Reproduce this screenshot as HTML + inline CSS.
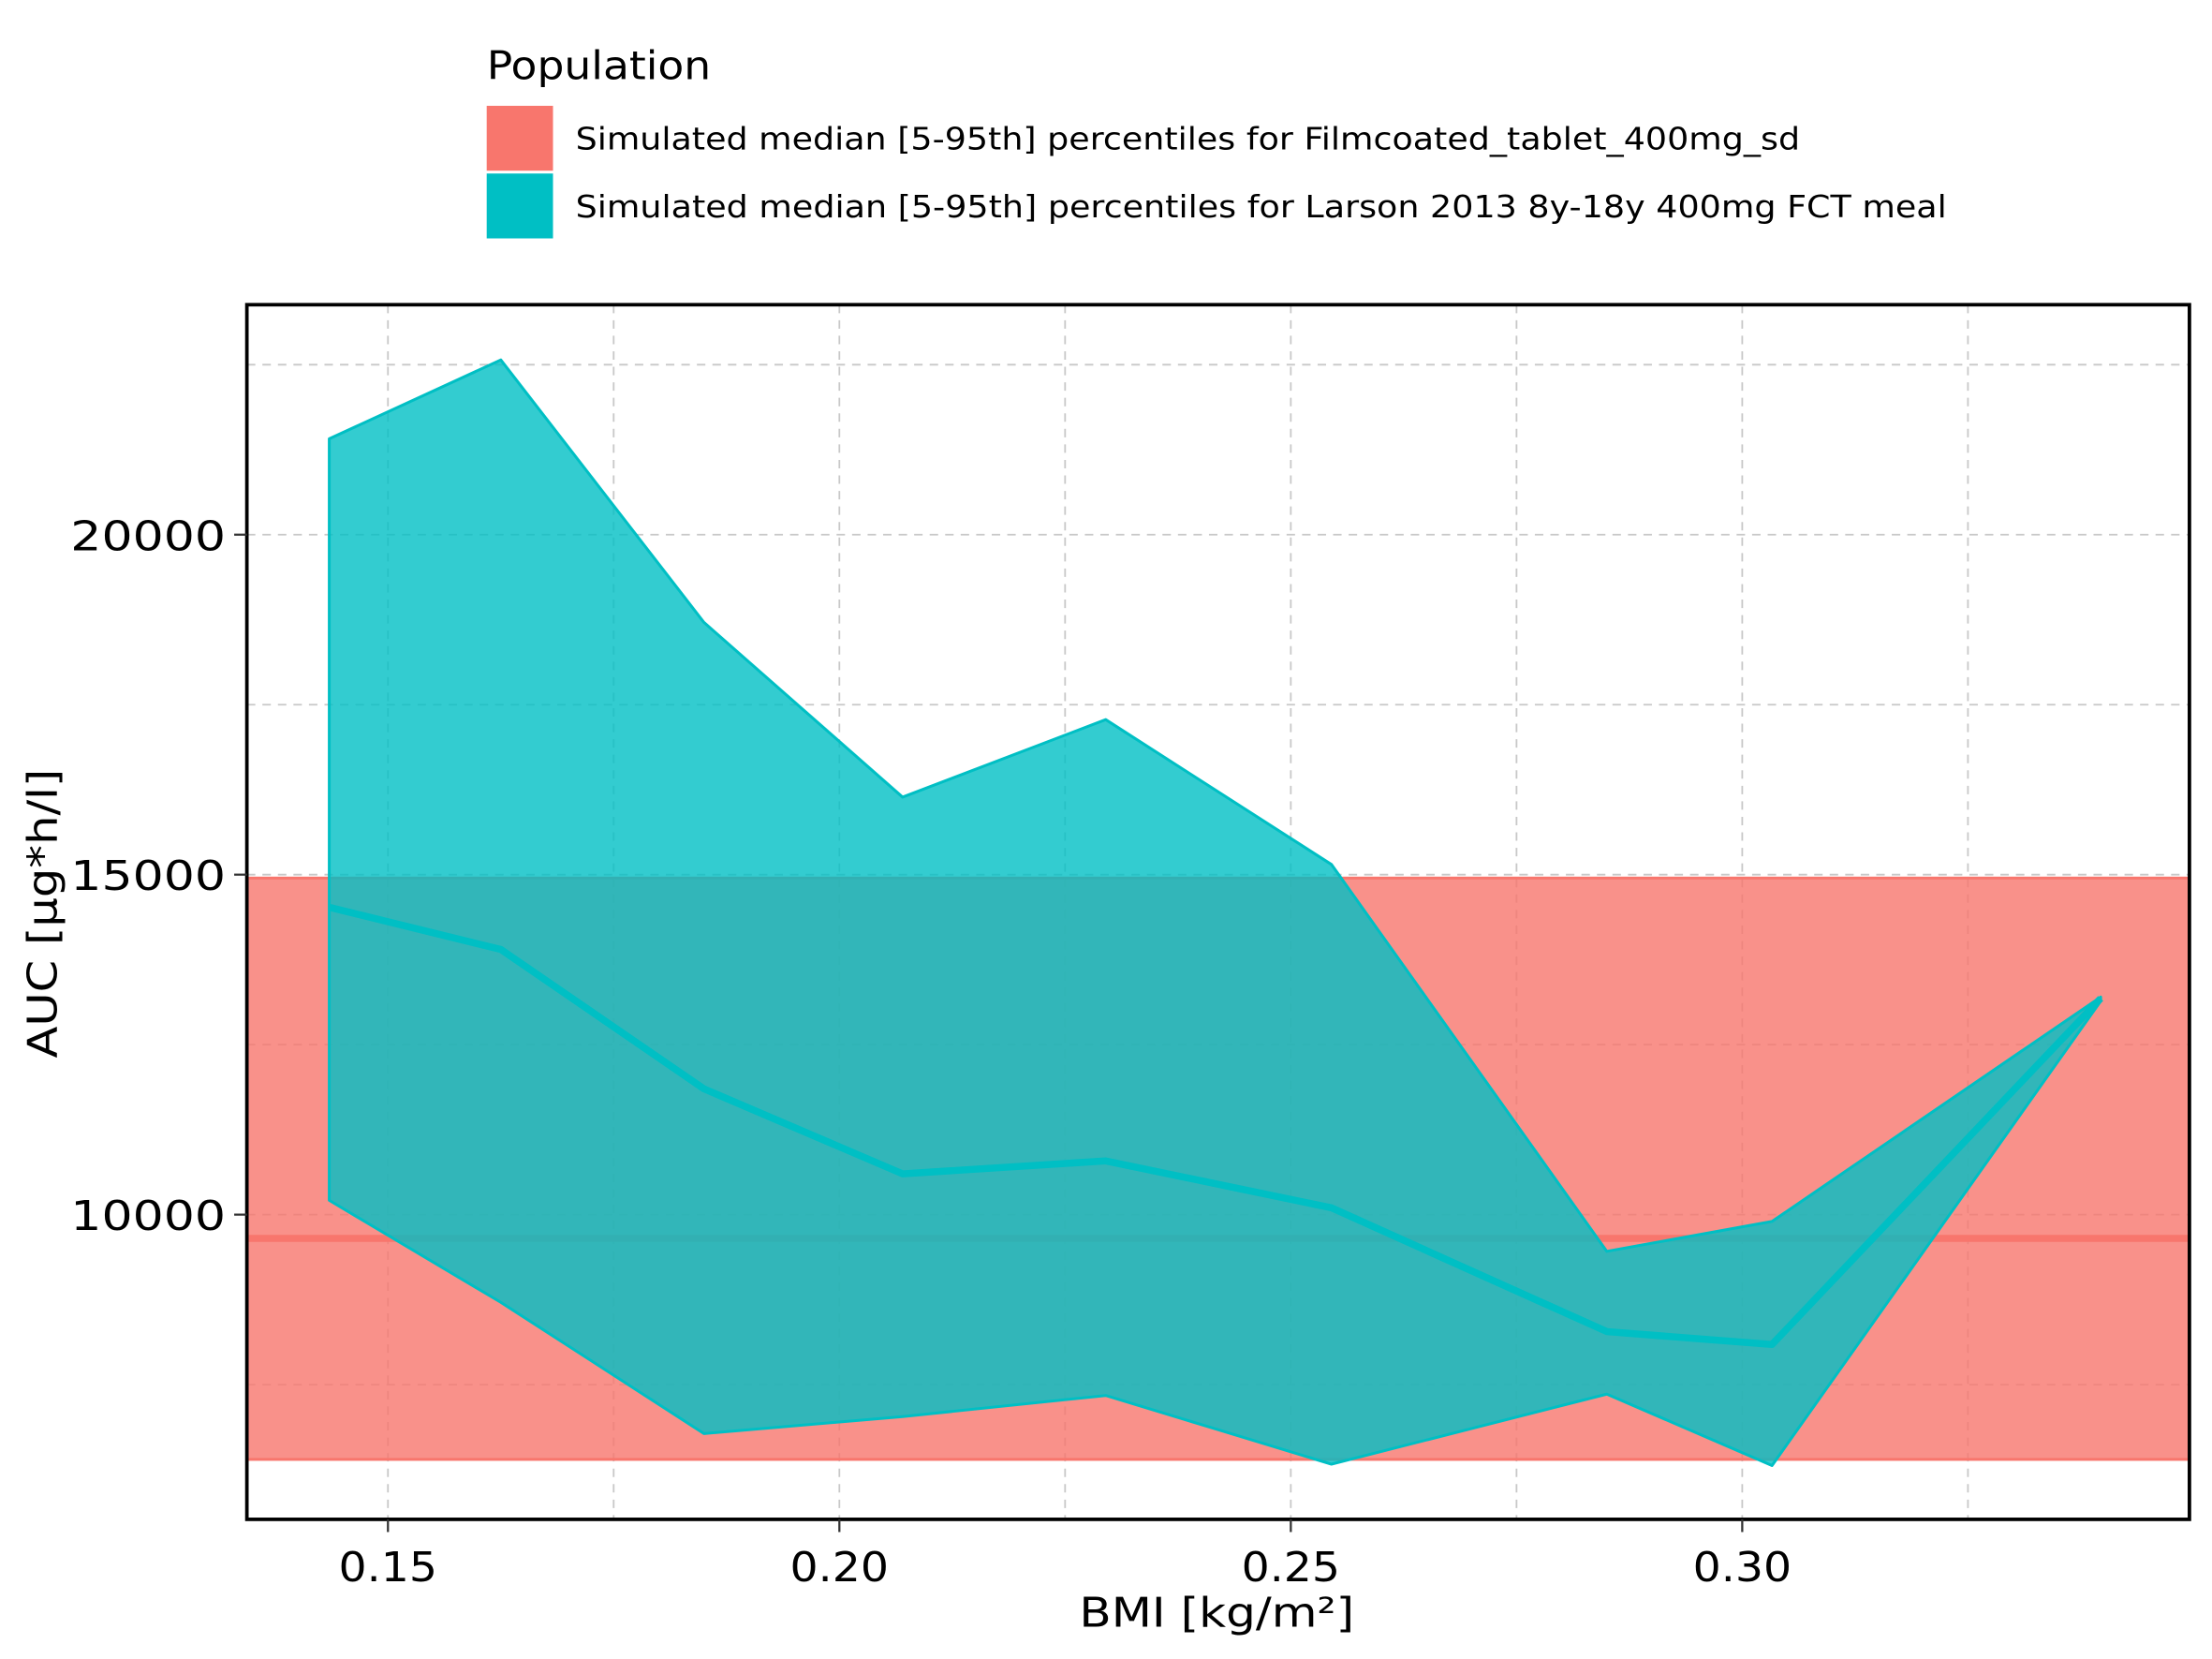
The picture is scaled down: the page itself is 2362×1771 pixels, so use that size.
<!DOCTYPE html>
<html><head><meta charset="utf-8"><style>
html,body{margin:0;padding:0;background:#fff;}
svg{display:block;font-family:"DejaVu Sans","Liberation Sans",sans-serif;}
</style></head><body>
<svg id="chart" width="2362" height="1771" viewBox="0 0 1568 1176" preserveAspectRatio="none" xmlns="http://www.w3.org/2000/svg">
<g>
<text x="345" y="56" font-size="28" textLength="159" lengthAdjust="spacingAndGlyphs" fill="#000">Population</text>
<rect x="345" y="75" width="47" height="46" fill="#F8766D"/>
<rect x="345" y="123" width="47" height="46" fill="#00BFC4"/>
<text x="408" y="106" font-size="22" textLength="868" lengthAdjust="spacingAndGlyphs" fill="#000">Simulated median [5-95th] percentiles for Filmcoated_tablet_400mg_sd</text>
<text x="408" y="154" font-size="22" textLength="972" lengthAdjust="spacingAndGlyphs" fill="#000">Simulated median [5-95th] percentiles for Larson 2013 8y-18y 400mg FCT meal</text>
</g>
<g id="plot"></g>
<text x="765" y="1153" font-size="29" textLength="195" lengthAdjust="spacingAndGlyphs">BMI [kg/m²]</text>
<text transform="translate(40,750) rotate(-90)" font-size="29" textLength="205" lengthAdjust="spacingAndGlyphs">AUC [µg*h/l]</text>
</svg>
<script>
const bmi=[0.1435,0.1625,0.185,0.207,0.2295,0.2545,0.285,0.3033,0.3397];
const upper=[21410,22570,18710,16140,17280,15150,9460,9900,13200];
const median=[14520,13900,11850,10600,10790,10100,8280,8090,13180];
const lower=[10210,8710,6780,7030,7340,6330,7360,6310,13140];
const refLow=[6400];
const refHigh=[14950];
const refMedian=[9650];
const xTicks=[0.15,0.20,0.25,0.30];
const xTickLabels=["0.15","0.20","0.25","0.30"];
const xMinor=[0.175,0.225,0.275,0.325];
const yTicks=[10000,15000,20000];
const yTickLabels=["10000","15000","20000"];
const yMinor=[7500,12500,17500,22500];

const L=175,R=1552,T=216,B=1077;
const sx=v=>275+(v-0.15)*6400;
const sy=v=>861-(v-10000)*0.04820;
const NS="http://www.w3.org/2000/svg";
const plot=document.getElementById('plot');
function mk(tag,attrs,parent){const e=document.createElementNS(NS,tag);for(const k in attrs)e.setAttribute(k,attrs[k]);(parent||plot).appendChild(e);return e;}

const grid=mk('g',{});


xMinor.concat(xTicks).forEach(v=>{const l=mk('line',{x1:sx(v),x2:sx(v),y1:T,y2:B,stroke:'#c8c8c8','stroke-width':1.2,'stroke-dasharray':'6,5'},grid);

});
yMinor.concat(yTicks).forEach(v=>{const l=mk('line',{x1:L,x2:R,y1:sy(v),y2:sy(v),stroke:'#c8c8c8','stroke-width':1.2,'stroke-dasharray':'6,5'},grid);

});

const rb=mk('rect',{x:L,y:sy(refHigh[0]),width:R-L,height:sy(refLow[0])-sy(refHigh[0]),fill:'#F8766D','fill-opacity':0.8,stroke:'#F8766D','stroke-width':2});


const rm=mk('line',{x1:L,x2:R,y1:sy(refMedian[0]),y2:sy(refMedian[0]),stroke:'#F8766D','stroke-width':5});



let pts=bmi.map((b,i)=>sx(b)+','+sy(upper[i]));
for(let i=bmi.length-1;i>=0;i--)pts.push(sx(bmi[i])+','+sy(lower[i]));
const band=mk('polygon',{points:pts.join(' '),fill:'#00BFC4','fill-opacity':0.8,stroke:'#00BFC4','stroke-width':2,'stroke-linejoin':'round'});


const ml=mk('polyline',{points:bmi.map((b,i)=>sx(b)+','+sy(median[i])).join(' '),fill:'none',stroke:'#00BFC4','stroke-width':5,'stroke-linejoin':'round'});



const frame=mk('rect',{x:L,y:T,width:R-L,height:B-T,fill:'none',stroke:'#000','stroke-width':2.5});



xTicks.forEach((v,i)=>{
 const t=mk('line',{x1:sx(v),x2:sx(v),y1:B,y2:B+9,stroke:'#333','stroke-width':1.5});
 
 
 const tx=mk('text',{x:sx(v)-35,y:B+44,'font-size':29,textLength:70,lengthAdjust:'spacingAndGlyphs'});
 tx.textContent=xTickLabels[i];
 
 
});
yTicks.forEach((v,i)=>{
 const t=mk('line',{x1:L-9,x2:L,y1:sy(v),y2:sy(v),stroke:'#333','stroke-width':1.5});
 
 
 const tx=mk('text',{x:L-15-110,y:sy(v)+11,'font-size':29,textLength:110,lengthAdjust:'spacingAndGlyphs'});
 tx.textContent=yTickLabels[i];
 
 
});
</script>
</body></html>
